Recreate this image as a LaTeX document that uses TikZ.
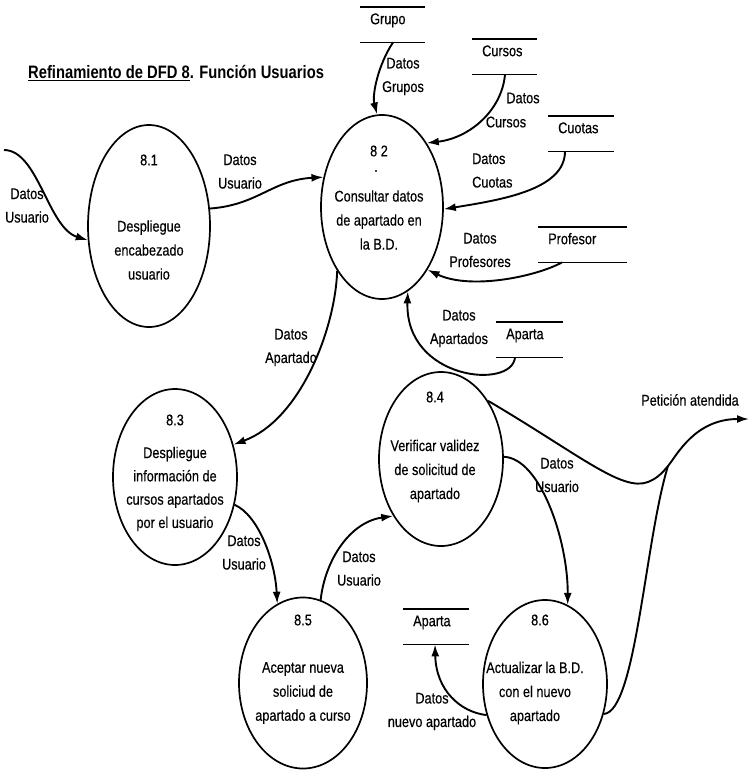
\documentclass[tikz,border=0pt]{standalone}
\usepackage{fontspec}
\setmainfont{Liberation Sans}[FakeStretch=0.82, UprightFeatures={FakeBold=0.4}]
\usetikzlibrary{arrows.meta,shapes.geometric}

% heavy underline for the heading
\newcommand{\thickul}[1]{\setbox0=\hbox{#1}\rlap{\rule[-3pt]{\wd0}{1.5pt}}\box0}

\begin{document}
\begin{tikzpicture}[x=1pt,y=-1pt,
  lbl/.style={font=\fontsize{15.5}{23.5}\selectfont, align=center, inner sep=0pt},
  body/.style={font=\fontsize{15.5}{24}\selectfont, align=center, inner sep=0pt},
  proc/.style={ellipse, draw, line width=1.7pt, inner sep=0pt},
  store/.style={font=\fontsize{15.5}{18}\selectfont, inner xsep=10pt, inner ysep=0pt,
                text height=17pt, text depth=18pt, anchor=north west},
  storeline/.style={line width=1.7pt},
  plain/.style={line width=1.9pt},
  flow/.style={line width=1.9pt, -{Latex[length=12pt,width=8pt]}},
]
\useasboundingbox (0,0) rectangle (750,771);

% heading
\node[anchor=base west, inner sep=0pt, font=\fontsize{18}{20}\selectfont\bfseries] (title)
  at (28,78) {\thickul{Refinamiento de DFD 8}. Función Usuarios};

% processes
\node[proc, minimum width=122pt, minimum height=202pt] (p81) at (149,226) {};
\node[proc, minimum width=122pt, minimum height=184pt] (p82) at (382,207) {};
\node[proc, minimum width=124pt, minimum height=176pt] (p83) at (175,477) {};
\node[proc, minimum width=124pt, minimum height=174pt] (p84) at (441,459) {};
\node[proc, minimum width=128pt, minimum height=171pt] (p85) at (303,683) {};
\node[proc, minimum width=124pt, minimum height=168pt] (p86) at (545,684) {};

\node[body] (n81) at (149,160) {8.1};
\node[body] (t81) at (149,250) {Despliegue\\encabezado\\usuario};
\node[body] (n82) at (379,151) {8 2};
\node[body] (d82) at (376,171) {.};
\node[body] (t82) at (379,220) {Consultar datos\\de apartado en\\la B.D.};
\node[body] (n83) at (175,420) {8.3};
\node[body, font=\fontsize{15.5}{23.3}\selectfont] (t83) at (175,489)
  {Despliegue\\información de\\cursos apartados\\por el usuario};
\node[body] (n84) at (435,397) {8.4};
\node[body] (t84) at (435,471) {Verificar validez\\de solicitud de\\apartado};
\node[body] (n85) at (303,620) {8.5};
\node[body] (t85) at (303,693) {Aceptar nueva\\soliciud de\\apartado a curso};
\node[body] (n86) at (540,620) {8.6};
\node[body] (t86) at (535,693) {Actualizar la B.D.\\con el nuevo\\apartado};

% data stores
\node[store] (grupo) at (360,7) {Grupo};
\node[store] (cursos) at (472,39) {Cursos};
\node[store] (cuotas) at (548,116) {Cuotas};
\node[store] (profesor) at (538,227) {Profesor};
\node[store] (aparta) at (496,322) {Aparta};
\node[store] (apartab) at (403,609) {Aparta};
\draw[storeline] (grupo.north west) -- ++(65,0) (grupo.south west) -- ++(65,0);
\draw[storeline] (cursos.north west) -- ++(65,0) (cursos.south west) -- ++(65,0);
\draw[storeline] (cuotas.north west) -- ++(66,0) (cuotas.south west) -- ++(66,0);
\draw[storeline] (profesor.north west) -- ++(89,0) (profesor.south west) -- ++(89,0);
\draw[storeline] (aparta.north west) -- ++(67,0) (aparta.south west) -- ++(67,0);
\draw[storeline] (apartab.north west) -- ++(66,0) (apartab.south west) -- ++(66,0);

\coordinate (grupo-out) at ([xshift=33pt]grupo.south west);
\coordinate (cursos-out) at ([xshift=33pt]cursos.south west);
\coordinate (cuotas-out) at ([xshift=17pt]cuotas.south west);
\coordinate (profesor-out) at ([xshift=24pt]profesor.south west);
\coordinate (aparta-out) at ([xshift=19pt]aparta.south west);
\coordinate (apartab-in) at ([xshift=32pt]apartab.south west);

% free ends
\coordinate (ext-in) at (4,150);
\coordinate (ext-out) at (749,419);
\coordinate (merge) at (668,466);

% flows
\draw[flow] (ext-in) .. controls (38,150) and (48,228) .. (p81.193);
\draw[flow] (p81.16) .. controls (258,205) and (272,180) .. (p82.153);
\draw[flow] (grupo-out) .. controls (378,65) and (372,95) .. (p82.93);
\draw[flow] (cursos-out) .. controls (502,110) and (470,138) .. (p82.55);
\draw[flow] (cuotas-out) .. controls (565,190) and (500,200) .. (p82.-2);
\draw[flow] (profesor-out) .. controls (535,277) and (470,290) .. (p82.-54);
\draw[flow] (aparta-out) .. controls (512,390) and (405,380) .. (p82.-73);
\draw[flow] (p82.235) .. controls (335,330) and (300,420) .. (p83.29);
\draw[flow] (p83.-25) .. controls (258,515) and (275,560) .. (p85.108);
\draw[flow] (p85.78) .. controls (325,560) and (350,522) .. (p84.230);
\draw[flow] (p84.2) .. controls (540,458) and (568,540) .. (p86.74);
\draw[flow] (p86.208) .. controls (460,712) and (436,690) .. (apartab-in);
\draw[flow] (p84.51) .. controls (580,455) and (622,492) .. (648,482)
  .. controls (658,478) and (663,472) .. (merge)
  .. controls (677,455) and (695,419) .. (ext-out);
\draw[plain] (p86.-27) .. controls (636,712) and (645,540) .. (merge);

% flow labels
\node[lbl] (l-in) at (27,205.5) {Datos\\Usuario};
\node[lbl] (l-12) at (240,171.5) {Datos\\Usuario};
\node[lbl] (l-gr) at (403,76.5) {Datos\\Grupos};
\node[lbl] (l-cu1) at (523,98) {Datos};
\node[lbl] (l-cu2) at (506,122) {Cursos};
\node[lbl, align=left, anchor=west] (l-cq) at (472,170.5) {Datos\\Cuotas};
\node[lbl] (l-pr) at (480,250) {Datos\\Profesores};
\node[lbl] (l-ap) at (459,328.5) {Datos\\Apartados};
\node[lbl] (l-23) at (291,347.5) {Datos\\Apartado};
\node[lbl] (l-35) at (244,552.5) {Datos\\Usuario};
\node[lbl] (l-54) at (359,568.5) {Datos\\Usuario};
\node[lbl] (l-46) at (557,475) {Datos\\Usuario};
\node[lbl] (l-6a) at (432,711.5) {Datos\\nuevo apartado};
\node[lbl] (l-pet) at (690,400) {Petición atendida};
\end{tikzpicture}
\end{document}
